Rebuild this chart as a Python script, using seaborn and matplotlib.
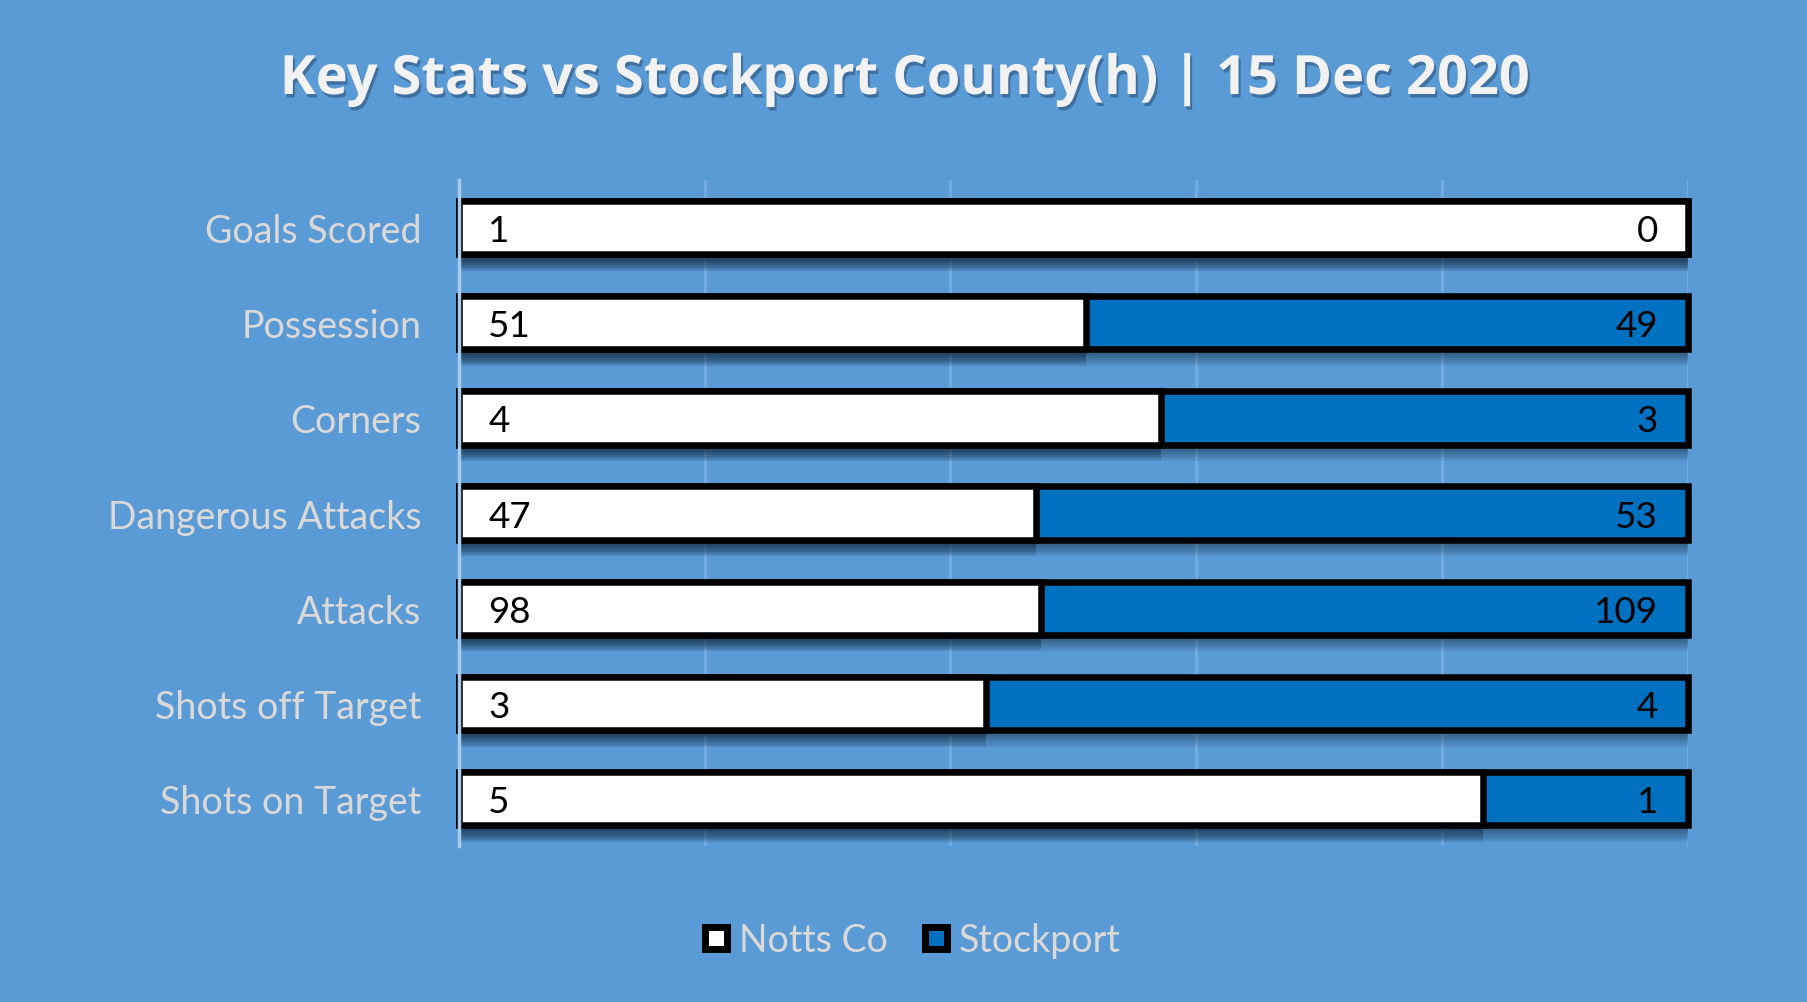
import matplotlib
matplotlib.use("Agg")
import matplotlib.pyplot as plt
import matplotlib.patheffects as pe
from matplotlib.lines import Line2D
import seaborn as sns
import pandas as pd

categories = ["Goals Scored", "Possession", "Corners", "Dangerous Attacks",
              "Attacks", "Shots off Target", "Shots on Target"]
notts = [1, 51, 4, 47, 98, 3, 5]
stockport = [0, 49, 3, 53, 109, 4, 1]
series_names = ["Notts Co", "Stockport"]
title = "Key Stats vs Stockport County(h) | 15 Dec 2020"

BG = "#5B9BD5"
BLUE = "#0070C0"
WHITE = "#FFFFFF"
TXT = "#D9D9D9"

df = pd.DataFrame({
    "category": categories,
    "notts": notts,
    "stockport": stockport,
})
df["total"] = df["notts"] + df["stockport"]
df["notts_share"] = df["notts"] / df["total"]
df["full"] = (df["notts"] + df["stockport"]) / df["total"]

sns.set_theme(style="white")
plt.rcParams["font.family"] = ["Lato", "DejaVu Sans"]

fig = plt.figure(figsize=(18.07, 10.03), dpi=100, facecolor=BG)
ax = fig.add_axes([0.254, 0.1555, 0.934 - 0.254, 0.8195 - 0.1555])
ax.set_facecolor(BG)

sns.barplot(data=df, y="category", x="full", color=BLUE, orient="h",
            width=0.56, edgecolor="black", linewidth=4.7, saturation=1,
            errorbar=None, ax=ax, zorder=3)
sns.barplot(data=df, y="category", x="notts_share", color=WHITE, orient="h",
            width=0.56, edgecolor="black", linewidth=4.7, saturation=1,
            errorbar=None, ax=ax, zorder=3)

shadow = [pe.SimplePatchShadow(offset=(0, -k), shadow_rgbFace="#0d2238", alpha=0.085)
          for k in (1.5, 3, 4.5, 6, 7.5, 9, 10.5, 12)]
for p in ax.patches:
    p.set_clip_on(False)
    p.set_path_effects(shadow + [pe.Normal()])

ax.set_xlim(0, 1)
ax.set_ylim(len(categories) - 0.5, -0.5)
ax.set_xticks([0.2, 0.4, 0.6, 0.8, 1.0])
ax.set_xticklabels([])
ax.grid(axis="x", color="#74AADD", linewidth=2.2, zorder=0)
ax.set_axisbelow(True)
ax.set_xlabel("")
ax.set_ylabel("")
for s in ("top", "right", "bottom"):
    ax.spines[s].set_visible(False)
ax.spines["left"].set_color("#A8CAEC")
ax.spines["left"].set_linewidth(2.5)
ax.spines["left"].set_zorder(4)
ax.tick_params(axis="y", length=0, pad=27, labelsize=27, labelcolor=TXT)
ax.tick_params(axis="x", length=0)

for i, (a, b) in enumerate(zip(notts, stockport)):
    ax.annotate(str(a), xy=(0, i), xytext=(21, 0), textcoords="offset points",
                ha="left", va="center_baseline", fontsize=26.5, color="black", zorder=6)
    ax.annotate(str(b), xy=(1, i), xytext=(-21.5, 0), textcoords="offset points",
                ha="right", va="center_baseline", fontsize=26.5, color="black", zorder=6)

fig.text(0.5, 1 - 81 / 1003, title, ha="center", va="center", fontsize=39,
         fontweight="bold", family=["Open Sans", "DejaVu Sans"], color="#F2F2F2",
         path_effects=[pe.SimplePatchShadow(offset=(1.5, -2.5), shadow_rgbFace="#1F3F60", alpha=0.45),
                       pe.Normal()])

handles = [Line2D([], [], marker="s", linestyle="none", markersize=16.5,
                  markerfacecolor=c, markeredgecolor="black", markeredgewidth=5)
           for c in (WHITE, BLUE)]
leg = fig.legend(handles, series_names, loc="center", bbox_to_anchor=(0.503, 1 - 941 / 1003),
                 ncol=2, frameon=False, fontsize=27, handletextpad=0.1,
                 columnspacing=0.8, handlelength=1.0)
for t in leg.get_texts():
    t.set_color(TXT)

fig.savefig("out.png", dpi=100, facecolor=BG)
